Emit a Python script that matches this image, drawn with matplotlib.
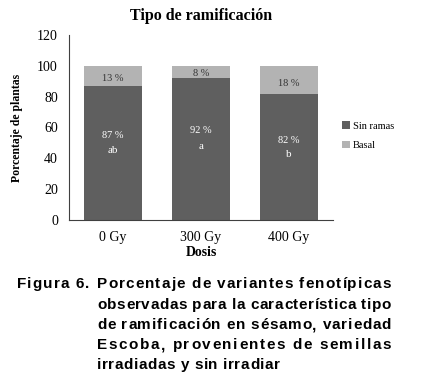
import matplotlib
matplotlib.use("Agg")
import matplotlib.pyplot as plt

categories = ["0 Gy", "300 Gy", "400 Gy"]
sin_ramas = [87, 92, 82]
basal = [13, 8, 18]
letters = ["ab", "a", "b"]
yticks = [0, 20, 40, 60, 80, 100, 120]

caption_lines = [
    "Porcentaje de variantes fenotípicas",
    "observadas para la característica tipo",
    "de ramificación en sésamo, variedad",
    "Escoba, provenientes de semillas",
    "irradiadas y sin irradiar",
]

DARK = "#5f5f5f"
LIGHT = "#b3b3b3"
SERIF = "Liberation Serif"
SANS = "Liberation Sans"

fig = plt.figure(figsize=(4.21, 3.78), dpi=100)
W, H = 421, 378
ax = fig.add_axes([69 / W, 1 - 220 / H, (333 - 69) / W, (220 - 35) / H])

x = range(len(categories))
b1 = ax.bar(x, sin_ramas, width=0.65, color=DARK, label="Sin ramas")
b2 = ax.bar(x, basal, bottom=sin_ramas, width=0.65, color=LIGHT, label="Basal")

for i, (s, b, l) in enumerate(zip(sin_ramas, basal, letters)):
    ax.text(i, s * 0.63, f"{s} %", ha="center", va="center", color="white",
            fontsize=7.5, family=SERIF)
    ax.text(i, s * 0.52, l, ha="center", va="center", color="white",
            fontsize=8, family=SERIF)
    ax.text(i, s + b * 0.35, f"{b} %", ha="center", va="center", color="#333333",
            fontsize=7.5, family=SERIF)

ax.set_xlim(-0.5, 2.5)
ax.set_ylim(0, 120)
ax.set_yticks(yticks)
ax.set_xticks(list(x))
ax.set_xticklabels(categories)
for sp in ["top", "right"]:
    ax.spines[sp].set_visible(False)
for sp in ["left", "bottom"]:
    ax.spines[sp].set_color("#404040")
    ax.spines[sp].set_linewidth(0.8)
ax.tick_params(length=0, labelsize=10, pad=8)
for t in ax.get_xticklabels() + ax.get_yticklabels():
    t.set_family(SERIF)
ax.tick_params(axis="x", pad=8)

ax.set_title("Tipo de ramificación", fontsize=11.5, fontweight="bold", family=SERIF, pad=11)
ax.set_xlabel("Dosis", fontsize=10, fontweight="bold", family=SERIF, labelpad=1)
ax.set_ylabel("Porcentaje de plantas", fontsize=8.5, fontweight="bold", family=SERIF, labelpad=10)

leg = fig.legend(handles=[b1, b2], loc="upper left", bbox_to_anchor=(333 / W, 1 - 112 / H),
                 frameon=False, prop={"family": SERIF, "size": 7.5}, handlelength=0.7,
                 handleheight=0.7, handletextpad=0.3, labelspacing=0.95)

# Caption, justified with letter spacing
fig.canvas.draw()
renderer = fig.canvas.get_renderer()
fs = 11
kw = dict(fontsize=fs, fontweight="bold", family=SANS, va="center", ha="left")
figw = fig.bbox.width


def text_w(s):
    t = fig.text(0, 0, s + "|", **kw)
    w1 = t.get_window_extent(renderer).width
    t.remove()
    t = fig.text(0, 0, "|", **kw)
    w2 = t.get_window_extent(renderer).width
    t.remove()
    return (w1 - w2) / figw


def place(s, x0, yf, extra):
    for i, ch in enumerate(s):
        if ch == " ":
            continue
        fig.text(x0 + text_w(s[:i]) + i * extra, yf, ch, **kw)


left0, indent, right = 17 / W, 97 / W, 391 / W
ys = [284, 305, 325, 345, 365]
extras = []
for li, (line, yp) in enumerate(zip(caption_lines, ys)):
    yf = 1 - yp / H
    if li < len(caption_lines) - 1:
        extra = (right - indent - text_w(line)) / (len(line) - 1)
        extras.append(extra)
    else:
        extra = min(extras)
    place(line, indent, yf, extra)
place("Figura 6.", left0, 1 - ys[0] / H, extras[0])

fig.savefig("out.png", dpi=100)
